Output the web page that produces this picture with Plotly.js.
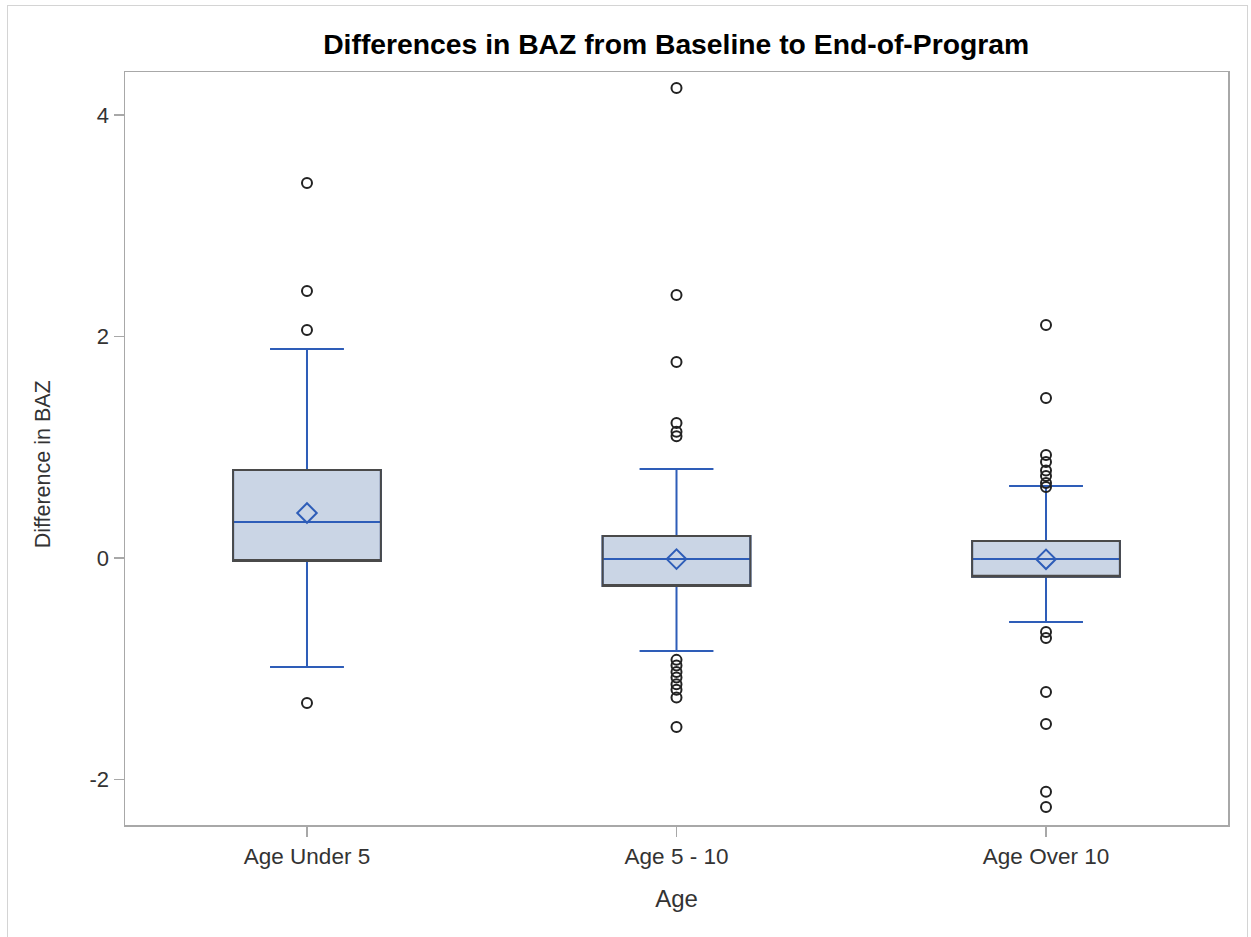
<!DOCTYPE html>
<html>
<head>
<meta charset="utf-8">
<script src="https://cdn.plot.ly/plotly-3.0.1.min.js"></script>
<style>
  html, body { margin: 0; padding: 0; background: #fff; }
  #frame { position: absolute; left: 7px; top: 5px; width: 1241px; height: 940px; border: 1px solid #d4d4d4; box-sizing: border-box; }
  #chart { position: absolute; left: 0; top: 0; width: 1251px; height: 937px; }
</style>
</head>
<body>
<div id="frame"></div>
<div id="chart"></div>
<script>
// Categories
const categories = ["Age Under 5", "Age 5 - 10", "Age Over 10"];

// Box statistics
const q1Values     = [-0.027, -0.253, -0.170];
const medianValues = [ 0.325, -0.009, -0.010];
const q3Values     = [ 0.795,  0.199,  0.153];
const lowerWhisker = [-0.984, -0.840, -0.578];
const upperWhisker = [ 1.887,  0.804,  0.650];
const meanValues   = [ 0.406, -0.010, -0.012];

// Outliers per category
const outliersUnder5 = [3.386, 2.411, 2.059, -1.309];
const outliers5to10  = [4.244, 2.375, 1.770, 1.219, 1.140, 1.100,
                        -0.920, -0.970, -1.030, -1.080, -1.140, -1.190, -1.260, -1.526];
const outliersOver10 = [2.104, 1.445, 0.930, 0.867, 0.790, 0.740, 0.677, 0.640,
                        -0.668, -0.722, -1.210, -1.499, -2.110, -2.248];

const blue = "#2E5DB8";
const fill = "#CAD5E5";
const dark = "#4a4a4a";

const traces = [];

// Main box: fill, blue median & whiskers
traces.push({
  type: "box",
  x: categories,
  q1: q1Values,
  median: medianValues,
  q3: q3Values,
  lowerfence: lowerWhisker,
  upperfence: upperWhisker,
  width: 0.4,
  whiskerwidth: 0.5,
  fillcolor: fill,
  line: { color: blue, width: 2 },
  boxpoints: false,
  hoverinfo: "skip",
  showlegend: false
});

// Dark outline of box (median placed at Q1 so it coincides with box edge)
traces.push({
  type: "box",
  x: categories,
  q1: q1Values,
  median: q1Values,
  q3: q3Values,
  lowerfence: q1Values,
  upperfence: q3Values,
  width: 0.4,
  whiskerwidth: 0,
  fillcolor: "rgba(0,0,0,0)",
  line: { color: dark, width: 2 },
  boxpoints: false,
  hoverinfo: "skip",
  showlegend: false
});

// Mean diamonds
traces.push({
  type: "scatter",
  mode: "markers",
  x: categories,
  y: meanValues,
  marker: { symbol: "diamond-open", size: 15, color: blue, line: { width: 2, color: blue } },
  hoverinfo: "skip",
  showlegend: false
});

// Outliers
const outlierSets = [outliersUnder5, outliers5to10, outliersOver10];
outlierSets.forEach((vals, i) => {
  traces.push({
    type: "scatter",
    mode: "markers",
    x: vals.map(() => categories[i]),
    y: vals,
    marker: { symbol: "circle-open", size: 10, color: "#222", line: { width: 2, color: "#222" } },
    hoverinfo: "skip",
    showlegend: false
  });
});

const layout = {
  width: 1251,
  height: 937,
  paper_bgcolor: "rgba(0,0,0,0)",
  plot_bgcolor: "#fff",
  margin: { l: 125, r: 23, t: 72, b: 112 },
  font: { family: "Liberation Sans, Arial, sans-serif", color: "#333" },
  boxmode: "overlay",
  title: {
    text: "<b>Differences in BAZ from Baseline to End-of-Program</b>",
    font: { size: 28.3, color: "#000", family: "Liberation Sans, Arial, sans-serif" },
    x: 0.5405, xanchor: "center",
    y: 0.953, yanchor: "middle"
  },
  xaxis: {
    type: "category",
    categoryorder: "array",
    categoryarray: categories,
    range: [-0.4925, 2.4925],
    showline: true, mirror: true, linecolor: "#a8a8a8", linewidth: 1.5,
    ticks: "outside", ticklen: 10, tickcolor: "#a8a8a8", tickwidth: 1.5,
    tickfont: { size: 22.5, color: "#333" },
    showgrid: false, zeroline: false,
    title: { text: "Age", font: { size: 24, color: "#333" }, standoff: 22 }
  },
  yaxis: {
    range: [-2.411, 4.388],
    tickvals: [-2, 0, 2, 4],
    ticktext: ["-2", "0", "2", "4"],
    showline: true, mirror: true, linecolor: "#a8a8a8", linewidth: 1.5,
    ticks: "outside", ticklen: 10, tickcolor: "#a8a8a8", tickwidth: 1.5,
    tickfont: { size: 22, color: "#333" },
    showgrid: false, zeroline: false
  },
  annotations: [{
    text: "Difference in BAZ",
    xref: "paper", yref: "paper",
    x: -0.0743, y: 0.479,
    xanchor: "center", yanchor: "middle",
    textangle: -90,
    showarrow: false,
    font: { size: 21.5, color: "#333" }
  }]
};

Plotly.newPlot("chart", traces, layout, { displayModeBar: false, staticPlot: true });
</script>
</body>
</html>
